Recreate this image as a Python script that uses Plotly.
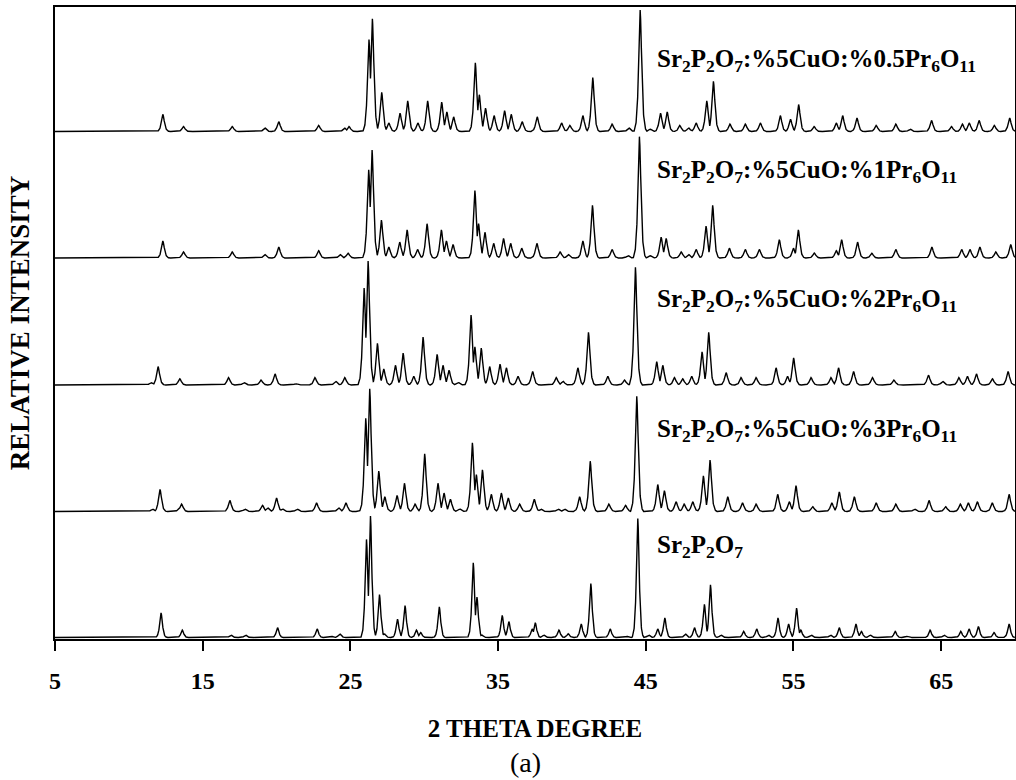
import numpy as np
import plotly.graph_objects as go

# ---------------- data ----------------
# 2-theta positions (deg) and relative intensities (%) of reflections
sr2p2o7_pos = [12.18, 13.62, 16.91, 17.9, 20.07, 22.75, 23.7, 24.28, 26.09, 26.36, 26.97, 27.3,
               28.19, 28.70, 29.47, 29.76, 31.02, 33.32, 33.57, 33.9, 35.28, 35.73, 37.31, 37.52,
               38.1, 39.12, 39.75, 40.63, 41.28, 42.59, 43.7, 44.46, 45.2, 45.81, 46.29, 47.68,
               48.30, 48.97, 49.38, 50.1, 51.63, 52.51, 53.3, 53.95, 54.67, 55.21, 55.5, 56.2,
               57.5, 58.10, 59.23, 59.6, 60.2, 61.89, 62.7, 64.25, 65.2, 66.33, 66.89, 67.52,
               68.58, 69.60]
sr2p2o7_int = [20, 6, 2, 2, 8, 7, 1, 3, 80, 99, 35, 3,
               15, 26, 6, 4, 25, 61, 33, 2, 18, 13, 7, 12,
               2, 6, 3, 11, 44, 7, 1, 97, 2, 7, 16, 3,
               8, 27, 43, 2, 5, 7, 2, 16, 11, 24, 6, 2,
               2, 8, 11, 5, 2, 5, 1, 6, 2, 5, 7, 9,
               4, 11]

cu3_pos = [11.6, 12.11, 13.4, 13.57, 16.84, 17.86, 19.05, 19.4, 20.0, 20.4, 21.4, 22.71, 24.2,
           24.7, 26.04, 26.31, 26.92, 27.33, 28.16, 28.66, 29.38, 30.03, 30.93, 31.34, 31.77,
           32.4, 33.26, 33.53, 33.94, 34.54, 35.22, 35.69, 36.46, 37.45, 37.9, 39.07, 39.5,
           40.52, 41.24, 42.5, 43.63, 44.39, 45.81, 46.26, 47.05, 47.6, 48.18, 48.9, 49.35,
           50.55, 51.55, 52.47, 53.93, 54.72, 55.17, 56.3, 57.6, 58.1, 59.12, 60.6, 61.93,
           63.2, 64.18, 65.3, 66.3, 66.84, 67.45, 68.46, 69.6]
cu3_int = [2, 18, 2, 6, 9, 2, 5, 3, 11, 2, 2, 7, 3,
           7, 76, 100, 33, 12, 13, 23, 6, 47, 23, 15, 10,
           2, 56, 30, 34, 14, 15, 11, 6, 10, 2, 2, 2,
           12, 41, 6, 5, 94, 22, 17, 8, 6, 8, 29, 42,
           12, 7, 6, 14, 8, 21, 4, 7, 16, 12, 7, 6,
           2, 9, 4, 6, 7, 8, 7, 14]

cu2_pos = [11.5, 11.98, 13.45, 16.75, 17.8, 18.95, 19.9, 21.3, 22.6, 24.0, 24.62, 25.93, 26.2,
           26.83, 27.26, 28.05, 28.57, 29.29, 29.92, 30.87, 31.27, 31.68, 32.3, 33.17, 33.43,
           33.86, 34.43, 35.13, 35.56, 36.35, 37.34, 38.94, 39.4, 40.4, 41.12, 42.43, 43.56,
           44.3, 45.74, 46.15, 46.94, 47.5, 48.11, 48.81, 49.26, 50.44, 51.45, 52.47, 53.82,
           54.6, 55.01, 56.19, 57.54, 58.05, 59.07, 60.35, 61.8, 64.14, 65.1, 66.2, 66.78,
           67.39, 68.47, 69.53]
cu2_int = [2, 15, 5, 6, 2, 4, 9, 1, 6, 3, 6, 79, 101,
           34, 13, 16, 26, 7, 39, 25, 16, 12, 2, 57, 31,
           30, 15, 17, 14, 7, 11, 6, 3, 14, 43, 7, 4,
           96, 19, 16, 6, 5, 7, 27, 43, 10, 6, 6, 14,
           7, 22, 6, 6, 14, 11, 6, 4, 8, 3, 6, 7,
           9, 5, 11]

cu1_pos = [12.3, 13.7, 17.0, 19.2, 20.15, 22.85, 24.3, 24.84, 26.24, 26.47, 27.1, 27.6, 28.34,
           28.84, 29.55, 30.19, 31.16, 31.5, 31.95, 33.43, 33.68, 34.11, 34.7, 35.37, 35.85,
           36.6, 37.63, 39.2, 39.75, 40.74, 41.39, 42.72, 43.8, 44.57, 45.3, 46.04, 46.38,
           47.4, 47.9, 48.41, 49.08, 49.53, 50.66, 51.74, 52.69, 54.04, 55.0, 55.33, 56.41,
           57.9, 58.26, 59.34, 60.3, 61.93, 64.37, 66.39, 66.95, 67.62, 68.7, 69.71]
cu1_int = [14, 5, 5, 3, 9, 6, 3, 4, 72, 88, 31, 9, 13,
           23, 7, 28, 23, 14, 11, 55, 28, 21, 12, 16, 12,
           8, 12, 5, 3, 14, 43, 7, 2, 99, 2, 17, 16,
           5, 3, 7, 26, 43, 8, 7, 7, 15, 8, 23, 4,
           6, 15, 13, 4, 7, 9, 7, 7, 9, 5, 11]

cu05_pos = [12.3, 13.7, 17.0, 19.2, 20.15, 22.85, 24.6, 24.91, 26.26, 26.49, 27.12, 27.6, 28.36,
            28.88, 29.57, 30.23, 31.18, 31.53, 31.99, 33.46, 33.73, 34.15, 34.73, 35.44, 35.89,
            36.63, 37.65, 39.3, 39.86, 40.74, 41.41, 42.72, 43.85, 44.62, 45.3, 46.0, 46.45,
            47.3, 47.9, 48.41, 49.13, 49.58, 50.7, 51.74, 52.76, 54.11, 54.8, 55.35, 56.4,
            57.9, 58.33, 59.3, 60.6, 61.93, 62.9, 64.35, 65.7, 66.44, 66.9, 67.57, 68.6, 69.64]
cu05_int = [14, 4, 4, 3, 8, 5, 3, 4, 75, 92, 32, 7, 15,
            25, 7, 25, 24, 16, 12, 56, 30, 19, 13, 17, 14,
            8, 12, 7, 5, 13, 44, 6, 3, 99, 2, 15, 16,
            5, 3, 7, 25, 41, 6, 6, 7, 13, 10, 22, 4,
            7, 13, 11, 5, 6, 2, 9, 4, 6, 7, 9, 5, 11]

sample_names = ["Sr<sub>2</sub>P<sub>2</sub>O<sub>7</sub>",
                "Sr<sub>2</sub>P<sub>2</sub>O<sub>7</sub>:%5CuO:%3Pr<sub>6</sub>O<sub>11</sub>",
                "Sr<sub>2</sub>P<sub>2</sub>O<sub>7</sub>:%5CuO:%2Pr<sub>6</sub>O<sub>11</sub>",
                "Sr<sub>2</sub>P<sub>2</sub>O<sub>7</sub>:%5CuO:%1Pr<sub>6</sub>O<sub>11</sub>",
                "Sr<sub>2</sub>P<sub>2</sub>O<sub>7</sub>:%5CuO:%0.5Pr<sub>6</sub>O<sub>11</sub>"]
x_ticks = [5, 15, 25, 35, 45, 55, 65]

patterns = [(sr2p2o7_pos, sr2p2o7_int), (cu3_pos, cu3_int), (cu2_pos, cu2_int),
            (cu1_pos, cu1_int), (cu05_pos, cu05_int)]

# ---------------- style ----------------
offsets = [0.012, 1.009, 2.01, 3.014, 4.015]      # vertical stacking of patterns
label_y = [0.73, 1.65, 2.68, 3.70, 4.58]           # label positions (data units)
widths = [0.38, 0.42, 0.42, 0.42, 0.42]            # peak half-base width (deg)
scale = 0.0097                                      # intensity % -> plot units
shape_off = np.array([-1.0, -0.7, -0.45, -0.25, -0.1, 0.0, 0.1, 0.25, 0.45, 0.7, 1.0])
shape_rel = np.array([0.0, 0.05, 0.2, 0.55, 0.9, 1.0, 0.9, 0.55, 0.2, 0.05, 0.0])
FONT = "Liberation Serif"

grid = np.round(np.arange(5.0, 70.0001, 0.01), 4)

fig = go.Figure()
for (pos, inten), off, w in zip(patterns, offsets, widths):
    xs = np.unique(np.concatenate([grid, np.array(pos)]))
    prof = np.zeros_like(xs)
    for p, h in zip(pos, inten):
        prof = np.maximum(prof, h * np.interp(xs, p + shape_off * w, shape_rel, left=0.0, right=0.0))
    fig.add_trace(go.Scatter(x=xs, y=off + prof * scale, mode="lines",
                             line=dict(color="black", width=1.4), showlegend=False,
                             hoverinfo="skip"))

for name, ly in zip(sample_names, label_y):
    fig.add_annotation(x=45.6, y=ly, xref="x", yref="y", text="<b>" + name + "</b>",
                       showarrow=False, xanchor="left", yanchor="middle",
                       font=dict(family=FONT, size=25, color="black"))

fig.add_annotation(x=0.4896, y=-0.196, xref="paper", yref="paper", text="(a)",
                   showarrow=False, xanchor="center", yanchor="middle",
                   font=dict(family=FONT, size=28, color="black"))

fig.update_layout(
    width=1016, height=780,
    margin=dict(l=55, r=1, t=7, b=141),
    paper_bgcolor="white", plot_bgcolor="white",
    font=dict(family=FONT, color="black"),
    xaxis=dict(range=[5, 70], tickvals=x_ticks, ticktext=[f"<b>{t}</b>" for t in x_ticks],
               ticks="outside", ticklen=10, tickwidth=1.5, tickcolor="black",
               showline=True, linecolor="black", linewidth=1.5, mirror=True,
               showgrid=False, zeroline=False, automargin=False,
               tickfont=dict(family=FONT, size=24, color="black"), ticklabelstandoff=9,
               title=dict(text="<b>2 THETA DEGREE</b>", standoff=27,
                          font=dict(family=FONT, size=25, color="black"))),
    yaxis=dict(range=[0, 5.0], showticklabels=False, ticks="",
               showline=True, linecolor="black", linewidth=1.5, mirror=True,
               showgrid=False, zeroline=False, automargin=False,
               title=dict(text="<b>RELATIVE INTENSITY</b>", standoff=16,
                          font=dict(family=FONT, size=27, color="black"))),
)

fig.write_html("out.html", config={"displayModeBar": False},
               post_script="document.body.style.margin='0';document.body.style.overflow='hidden';")
